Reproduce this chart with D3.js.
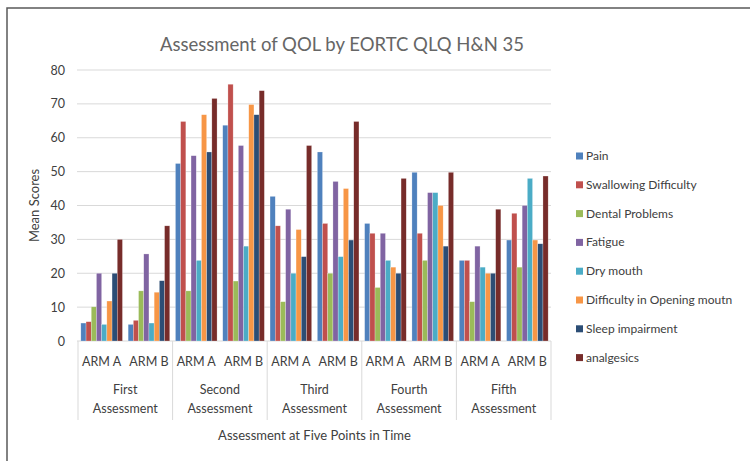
<!DOCTYPE html>
<html>
<head>
<meta charset="utf-8">
<script src="https://cdn.jsdelivr.net/npm/d3@7"></script>
<style>
  body { margin: 0; background: #fff; }
  svg { font-family: Lato, "Open Sans", sans-serif; }
</style>
</head>
<body>
<div id="chart"></div>
<script>
'use strict';

const assessments = ['First Assessment', 'Second Assessment', 'Third Assessment', 'Fourth Assessment', 'Fifth Assessment'];
const arms = ['ARM A', 'ARM B'];
const seriesNames = ['Pain', 'Swallowing Difficulty', 'Dental Problems', 'Fatigue', 'Dry mouth',
  'Difficulty in Opening moutn', 'Sleep impairment', 'analgesics'];
const seriesColors = ['#4F81BD', '#C0504D', '#9BBB59', '#8064A2', '#4BACC6', '#F79646', '#2C4D75', '#772C2A'];
const yTicks = [0, 10, 20, 30, 40, 50, 60, 70, 80];

// values per arm in order: First A, First B, Second A, Second B, ...
const pain =        [5.3, 4.9, 52.4, 63.7, 42.7, 55.8, 34.7, 49.8, 23.8, 29.8];
const swallowing =  [5.7, 6.1, 64.8, 75.8, 34.0, 34.7, 31.8, 31.8, 23.8, 37.7];
const dental =      [10.1, 14.8, 14.8, 17.7, 11.6, 20.0, 15.8, 23.8, 11.6, 21.8];
const fatigue =     [20.0, 25.7, 54.7, 57.7, 38.9, 47.1, 31.8, 43.8, 28.0, 40.0];
const dryMouth =    [4.9, 5.3, 23.8, 28.0, 20.0, 24.9, 23.8, 43.8, 21.8, 48.0];
const opening =     [11.8, 14.4, 66.8, 69.8, 32.9, 45.0, 21.8, 40.0, 20.0, 29.8];
const sleep =       [20.0, 17.8, 55.8, 66.8, 24.9, 29.8, 20.0, 28.0, 20.0, 28.7];
const analgesics =  [30.0, 34.0, 71.6, 73.9, 57.7, 64.8, 48.0, 49.8, 38.9, 48.7];

const seriesValues = [pain, swallowing, dental, fatigue, dryMouth, opening, sleep, analgesics];

const width = 750, height = 461;
const margin = { top: 70, right: 199, bottom: 120, left: 78 };
const plotWidth = width - margin.left - margin.right;
const plotHeight = height - margin.top - margin.bottom;

const svg = d3.select('#chart').append('svg')
  .attr('width', width)
  .attr('height', height);

// chart frame
svg.append('rect')
  .attr('x', 7).attr('y', 8)
  .attr('width', 800).attr('height', 500)
  .attr('fill', 'none')
  .attr('stroke', '#595959')
  .attr('stroke-width', 1.5);

svg.append('text')
  .attr('x', 342).attr('y', 51)
  .attr('text-anchor', 'middle')
  .attr('fill', '#666')
  .style('font-size', '18.5px')
  .text('Assessment of QOL by EORTC QLQ H&N 35');

const plot = svg.append('g')
  .attr('transform', `translate(${margin.left}, ${margin.top})`);

const xGroup = d3.scaleBand()
  .domain(assessments)
  .range([0, plotWidth]);

const xArm = d3.scaleBand()
  .domain(arms)
  .range([0, xGroup.bandwidth()])
  .paddingInner(0.12)
  .paddingOuter(0.06);

const xSeries = d3.scaleBand()
  .domain(seriesNames)
  .range([0, xArm.bandwidth()]);

const y = d3.scaleLinear()
  .domain([0, 80])
  .range([plotHeight, 0]);

// grid lines
plot.append('g')
  .selectAll('line')
  .data(yTicks)
  .enter().append('line')
    .attr('x1', -1).attr('x2', plotWidth)
    .attr('y1', (d) => y(d)).attr('y2', (d) => y(d))
    .attr('stroke', '#D9D9D9')
    .attr('stroke-width', 1);

// y axis labels
const yAxis = plot.append('g')
  .call(d3.axisLeft(y).tickValues(yTicks).tickSize(0).tickPadding(13));
yAxis.select('.domain').remove();
yAxis.selectAll('text')
  .attr('fill', '#404040')
  .style('font-size', '12.5px')
  .style('font-family', 'Lato, "Open Sans", sans-serif');

svg.append('text')
  .attr('transform', `translate(39, ${margin.top + plotHeight / 2}) rotate(-90)`)
  .attr('text-anchor', 'middle')
  .attr('fill', '#404040')
  .style('font-size', '13px')
  .text('Mean Scores');

// bars
const cells = [];
assessments.forEach((g, gi) => {
  arms.forEach((a, ai) => {
    seriesNames.forEach((s, si) => {
      cells.push({ group: g, arm: a, series: s, color: seriesColors[si], value: seriesValues[si][gi * 2 + ai] });
    });
  });
});

plot.append('g')
  .selectAll('rect')
  .data(cells)
  .enter().append('rect')
    .attr('x', (d) => xGroup(d.group) + xArm(d.arm) + xSeries(d.series))
    .attr('y', (d) => y(d.value))
    .attr('width', xSeries.bandwidth())
    .attr('height', (d) => y(0) - y(d.value))
    .attr('fill', (d) => d.color)
    .attr('stroke', '#fff')
    .attr('stroke-opacity', 0.5)
    .attr('stroke-width', 0.5);

// category axis
const xAxis = plot.append('g')
  .attr('transform', `translate(0, ${plotHeight})`);

xAxis.selectAll('line.sep')
  .data(assessments.concat(['end']))
  .enter().append('line')
    .attr('class', 'sep')
    .attr('x1', (d, i) => i < assessments.length ? xGroup(d) : plotWidth)
    .attr('x2', (d, i) => i < assessments.length ? xGroup(d) : plotWidth)
    .attr('y1', 0).attr('y2', 79)
    .attr('stroke', '#D9D9D9');

const groupLabels = xAxis.selectAll('g.grp')
  .data(assessments)
  .enter().append('g')
    .attr('class', 'grp')
    .attr('transform', (d) => `translate(${xGroup(d)}, 0)`);

groupLabels.selectAll('text.arm')
  .data(arms)
  .enter().append('text')
    .attr('class', 'arm')
    .attr('x', (d) => xArm(d) + xArm.bandwidth() / 2)
    .attr('y', 25)
    .attr('text-anchor', 'middle')
    .attr('fill', '#404040')
    .style('font-size', '12.5px')
    .text((d) => d);

groupLabels.append('text')
  .attr('x', xGroup.bandwidth() / 2)
  .attr('y', 53)
  .attr('text-anchor', 'middle')
  .attr('fill', '#404040')
  .style('font-size', '12.5px')
  .selectAll('tspan')
  .data((d) => d.split(' '))
  .enter().append('tspan')
    .attr('x', xGroup.bandwidth() / 2)
    .attr('dy', (d, i) => i === 0 ? 0 : 19)
    .text((d) => d);

svg.append('text')
  .attr('x', margin.left + plotWidth / 2)
  .attr('y', 440)
  .attr('text-anchor', 'middle')
  .attr('fill', '#404040')
  .style('font-size', '13px')
  .text('Assessment at Five Points in Time');

// legend
const legend = svg.append('g')
  .attr('transform', 'translate(576, 156)');

const legendItems = legend.selectAll('g')
  .data(seriesNames)
  .enter().append('g')
    .attr('transform', (d, i) => `translate(0, ${i * 28.8})`);

legendItems.append('rect')
  .attr('x', 0).attr('y', -3.5)
  .attr('width', 7).attr('height', 7)
  .attr('fill', (d, i) => seriesColors[i]);

legendItems.append('text')
  .attr('x', 10)
  .attr('y', 4)
  .attr('fill', '#404040')
  .style('font-size', '12px')
  .text((d) => d);
</script>
</body>
</html>
